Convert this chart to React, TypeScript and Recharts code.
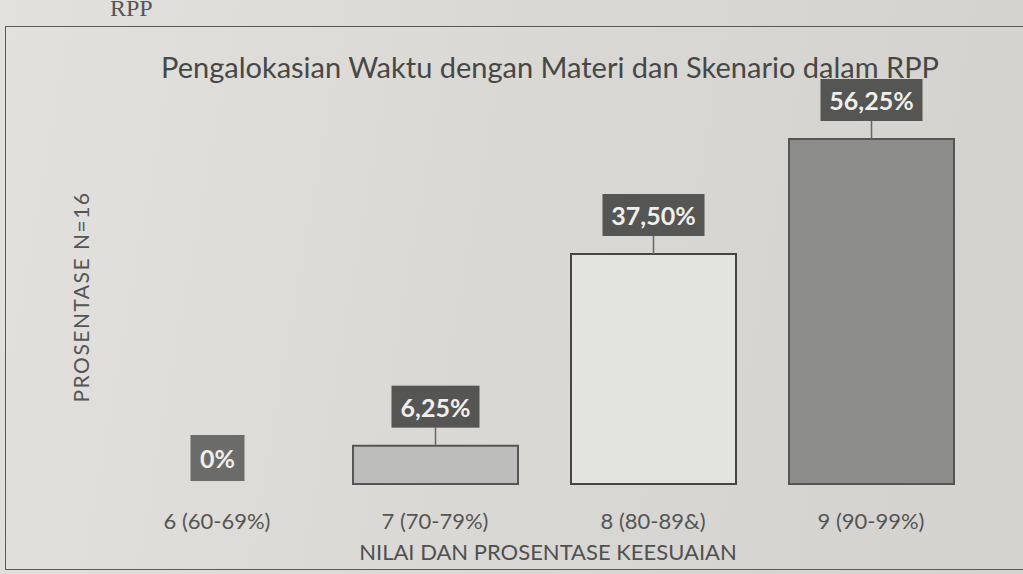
import { Bar, BarChart, Cell, LabelList, XAxis, YAxis } from 'recharts';

const categories = ['6 (60-69%)', '7 (70-79%)', '8 (80-89&)', '9 (90-99%)'];
const percentages = [0, 6.25, 37.5, 56.25];

const data = categories.map((name, i) => ({ name, value: percentages[i] }));

const BAR_FILLS = ['none', '#bdbdbb', '#e3e3e0', '#8c8c8a'];
const BAR_STROKES = ['none', '#555', '#454545', '#555'];
const FONT = 'Lato, "Open Sans", sans-serif';

const fmt = (v: number) => (v === 0 ? '0%' : v.toFixed(2).replace('.', ',') + '%');

// dark callout box above each bar, with a leader line down to the bar
const ValueBox = (props: any) => {
  const { x, y, width, height, value } = props;
  const cx = x + width / 2;
  const v = Number(value);
  const text = fmt(v);
  const w = Math.max(54, 18 + text.length * 14);
  const h = v === 0 ? 46 : 42;
  const base = y + height;
  const top = v === 0 ? base : y;
  const bottom = v === 0 ? base - 3 : top - 18;
  return (
    <g>
      {v !== 0 && <line x1={cx} y1={bottom} x2={cx} y2={top} stroke='#666' strokeWidth={1.5} />}
      <rect x={cx - w / 2} y={bottom - h} width={w} height={h} fill={v === 0 ? '#6b6b69' : '#555553'} />
      <text
        x={cx}
        y={bottom - h / 2}
        textAnchor='middle'
        dominantBaseline='central'
        fill='#efefed'
        fontFamily={FONT}
        fontWeight={700}
        fontSize={25}
      >
        {text}
      </text>
    </g>
  );
};

const CategoryTick = (props: any) => {
  const { x, y, payload } = props;
  return (
    <text x={x} y={y + 28} textAnchor='middle' dominantBaseline='central' fill='#555' fontFamily={FONT} fontSize={22}>
      {payload.value}
    </text>
  );
};

export default function App() {
  return (
    <div
      style={{
        position: 'fixed',
        left: 0,
        top: 0,
        width: 1023,
        height: 574,
        overflow: 'hidden',
        background: 'linear-gradient(100deg, #e2e1dd 0%, #d9d8d4 50%, #d3d2ce 100%)',
        fontFamily: FONT,
      }}
    >
      <div style={{ position: 'absolute', left: 110, top: -5, fontFamily: '"Liberation Serif", serif', fontSize: 24, color: '#555' }}>
        RPP
      </div>
      <div
        style={{
          position: 'absolute',
          left: 5,
          top: 26,
          width: 1030,
          height: 544,
          border: '1.5px solid #5a5a5a',
          boxSizing: 'border-box',
        }}
      />
      <div
        style={{
          position: 'absolute',
          left: 0,
          width: 1100,
          top: 49,
          textAlign: 'center',
          fontSize: 29,
          color: '#474745',
        }}
      >
        Pengalokasian Waktu dengan Materi dan Skenario dalam RPP
      </div>
      <div
        style={{
          position: 'absolute',
          left: 80,
          top: 297,
          transform: 'translate(-50%, -50%) rotate(-90deg)',
          whiteSpace: 'nowrap',
          fontSize: 21,
          letterSpacing: 1.5,
          color: '#555',
        }}
      >
        PROSENTASE N=16
      </div>
      <div
        style={{
          position: 'absolute',
          left: 548,
          top: 551,
          transform: 'translate(-50%, -50%)',
          whiteSpace: 'nowrap',
          fontSize: 22,
          color: '#505050',
        }}
      >
        NILAI DAN PROSENTASE KEESUAIAN
      </div>
      <div style={{ position: 'absolute', left: 0, top: 0 }}>
        <BarChart width={1023} height={574} data={data} margin={{ top: 116, right: 43, left: 108, bottom: 40 }}>
          <XAxis dataKey='name' height={50} axisLine={false} tickLine={false} tick={<CategoryTick />} interval={0} />
          <YAxis hide domain={[0, 60]} />
          <Bar dataKey='value' barSize={165} minPointSize={1} isAnimationActive={false} strokeWidth={2}>
            {data.map((_, i) => (
              <Cell key={`cell-${i}`} fill={BAR_FILLS[i]} stroke={BAR_STROKES[i]} />
            ))}
            <LabelList dataKey='value' content={<ValueBox />} />
          </Bar>
        </BarChart>
      </div>
    </div>
  );
}
